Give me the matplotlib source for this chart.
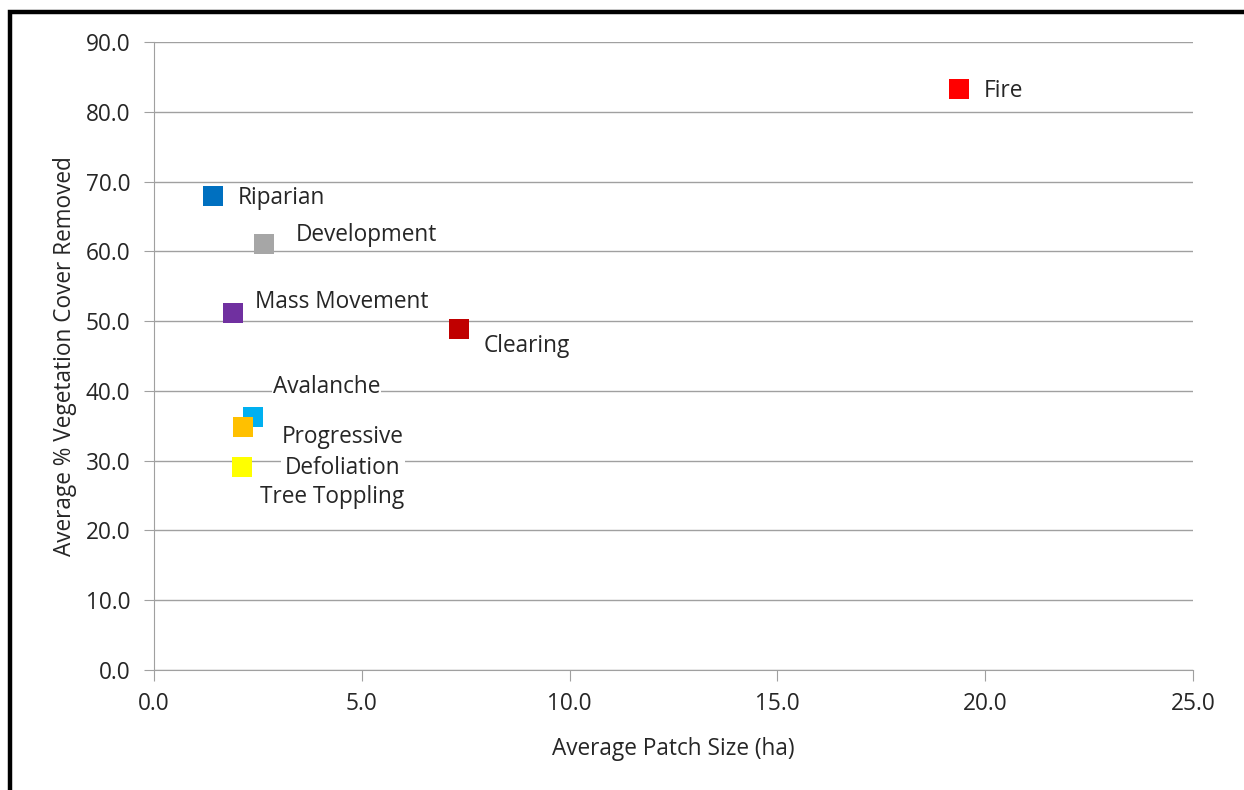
import matplotlib.pyplot as plt
from matplotlib.patches import Rectangle

# Disturbance types
names = ["Avalanche", "Progressive\nDefoliation", "Tree Toppling", "Riparian",
         "Development", "Mass Movement", "Clearing", "Fire"]
patch_size = [2.38, 2.14, 2.12, 1.42, 2.65, 1.90, 7.34, 19.37]
veg_removed = [36.3, 34.8, 29.1, 67.9, 61.0, 51.2, 48.9, 83.3]
colors = ["#00B0F0", "#FFC000", "#FFFF00", "#0070C0",
          "#A6A6A6", "#7030A0", "#C00000", "#FF0000"]
# label offsets in pixels (dx, dy) and alignment
offsets = [(20, 30), (100, -25), (90, -30), (25, -2),
           (32, 9), (22, 11), (25, -17), (25, -2)]
aligns = ["left", "center", "center", "left", "left", "left", "left", "left"]

xticks = [0, 5, 10, 15, 20, 25]
yticks = [0, 10, 20, 30, 40, 50, 60, 70, 80, 90]

plt.rcParams["font.family"] = ["Open Sans", "DejaVu Sans"]
grey = "#A0A0A0"
txt = "#262626"
fs = 16.3

fig = plt.figure(figsize=(12.44, 7.9), dpi=100)
ax = fig.add_axes([154 / 1244, 1 - 670 / 790, (1193 - 154) / 1244, (670 - 42) / 790])

for x, y, c in zip(patch_size, veg_removed, colors):
    ax.plot(x, y, marker="s", markersize=14, color=c, markeredgewidth=0,
            linestyle="none", zorder=3)

for x, y, n, (dx, dy), ha in zip(patch_size, veg_removed, names, offsets, aligns):
    ax.annotate(n, xy=(x, y), xytext=(dx, dy), textcoords="offset pixels",
                ha=ha, va="center", fontsize=fs, color=txt, linespacing=1.4,
                bbox=dict(boxstyle="square,pad=0.05", fc="white", ec="none"),
                zorder=4)

ax.set_xlim(0, 25)
ax.set_ylim(0, 90)
ax.set_xticks(xticks)
ax.set_yticks(yticks)
ax.set_xticklabels([f"{v:.1f}" for v in xticks])
ax.set_yticklabels([f"{v:.1f}" for v in yticks])
ax.tick_params(axis="both", colors=grey, labelcolor=txt, labelsize=fs)
ax.tick_params(axis="x", length=8, pad=8)
ax.tick_params(axis="y", length=7, pad=10)

ax.grid(axis="y", color=grey, linewidth=1)
ax.set_axisbelow(True)
for s in ["top", "right"]:
    ax.spines[s].set_visible(False)
for s in ["left", "bottom"]:
    ax.spines[s].set_color(grey)

ax.set_xlabel("Average Patch Size (ha)", fontsize=fs, color=txt, labelpad=15)
ax.set_ylabel("Average % Vegetation Cover Removed", fontsize=fs, color=txt, labelpad=6)

# black frame running off the right and bottom edges
fig.add_artist(Rectangle((9.5 / 1244, -0.1), 1.2, 1.1 - 12 / 790,
                         transform=fig.transFigure, fill=False,
                         edgecolor="black", linewidth=3.2, clip_on=False))

fig.savefig("out.png", dpi=100)
